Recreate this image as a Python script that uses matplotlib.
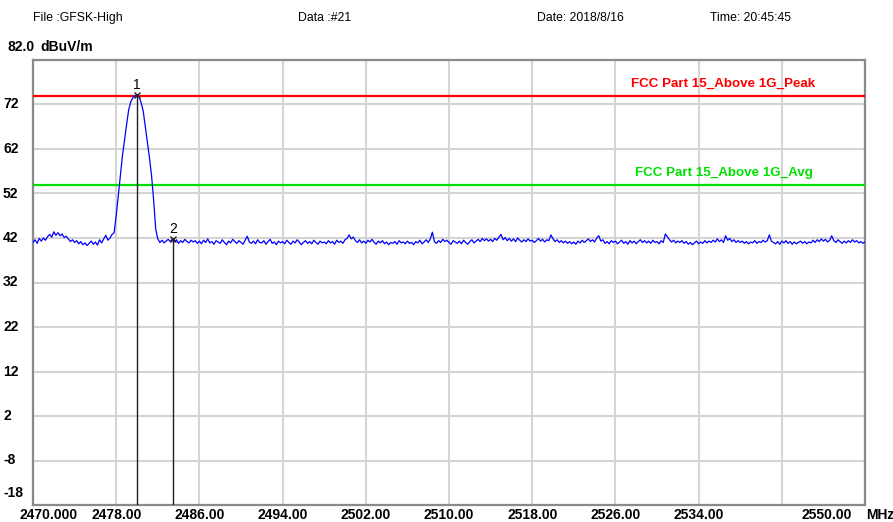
import numpy as np
import matplotlib
matplotlib.use("Agg")
import matplotlib.pyplot as plt
from matplotlib.transforms import blended_transform_factory, offset_copy

# ---------------- data ----------------
freq_start, freq_stop = 2470.0, 2550.0
level_min, level_max = -18.0, 82.0

trace_dbuv = [
    41.0, 41.6, 40.8, 41.9, 41.3, 42.0, 41.5, 42.3, 42.8, 42.2, 43.4, 42.6, 43.2, 42.5, 42.9, 42.1, 42.4, 41.8, 41.2, 41.6,
    41.0, 41.4, 40.7, 41.2, 40.5, 40.9, 40.3, 40.8, 41.3, 40.6, 41.1, 40.4, 41.6, 40.9, 41.8, 42.6, 41.5, 42.0, 42.8, 43.2,
    47.0, 51.5, 56.0, 60.5, 64.0, 67.5, 70.8, 72.6, 73.5, 74.0, 74.2, 73.7, 72.4, 70.5, 67.0, 63.5, 60.0, 56.0, 50.5, 44.0,
    41.8, 41.0, 41.5, 40.9, 41.3, 41.7, 41.2, 41.8, 41.1, 41.6, 40.8, 41.4, 41.0, 41.7, 41.2, 40.9, 41.5, 41.1, 41.4, 40.8,
    41.3, 40.7, 41.5, 41.0, 41.8, 40.9, 41.2, 40.6, 41.4, 41.1, 40.8, 41.6, 41.0, 40.5, 41.3, 40.9, 41.7, 41.2, 40.8, 41.4,
    41.0, 40.6, 41.5, 42.4, 41.1, 40.8, 41.3, 40.7, 41.6, 41.0, 40.9, 41.4, 40.6, 41.2, 41.7, 40.8, 41.1, 40.5, 41.3, 40.9,
    41.2, 40.7, 41.5, 41.0, 40.6, 41.3, 40.9, 41.6, 41.1, 40.5, 41.0, 41.4, 40.8, 41.2, 40.7, 41.5, 41.0, 40.6, 41.3, 40.9,
    41.1, 40.7, 41.4, 40.9, 41.2, 40.6, 41.5, 41.0, 41.3, 40.8, 41.6, 41.9, 42.7, 41.8, 42.2, 41.4, 41.0, 41.6, 40.9, 41.3,
    40.8, 41.5, 41.1, 41.7, 41.0, 40.6, 41.3, 40.9, 41.4, 40.7, 41.1, 40.5, 41.0, 40.8, 41.2, 40.6, 41.4, 40.9, 41.1, 40.7,
    41.3, 40.8, 41.0, 40.5, 41.2, 40.9, 41.5, 40.7, 41.1, 41.6, 41.0, 41.8, 43.3, 41.2, 40.8, 41.4, 41.0, 41.7, 41.2, 41.5,
    41.0, 40.6, 41.4, 41.1, 40.8, 41.3, 40.7, 41.5, 41.0, 40.6, 41.2, 41.6, 40.9, 41.3, 41.7, 41.2, 41.9, 41.4, 41.8, 41.3,
    41.7, 41.2, 41.9, 41.5, 42.2, 42.8, 41.6, 42.1, 41.4, 41.9, 41.3, 41.8, 41.2, 42.0, 41.5, 41.1, 41.6, 41.2, 41.8, 41.3,
    41.5, 41.0, 41.4, 41.9, 41.3, 41.7, 41.1, 41.6, 41.4, 42.7, 41.8, 41.2, 41.6, 41.0, 41.4, 40.9, 41.3, 40.8, 41.2, 40.7,
    41.1, 40.6, 41.3, 40.9, 41.5, 41.0, 41.4, 41.8, 41.2, 41.6, 41.1, 42.0, 42.5, 41.3, 41.6, 40.8, 41.2, 40.7, 41.4, 41.0,
    41.3, 40.7, 41.1, 41.5, 40.8, 41.2, 40.6, 41.4, 40.9, 41.3, 40.7, 41.2, 41.6, 41.0, 41.4, 40.9, 41.3, 40.8, 41.5, 41.0,
    41.2, 40.7, 41.4, 41.0, 42.9, 42.3, 41.6, 41.1, 41.5, 40.9, 41.3, 41.0, 41.4, 40.8, 41.2, 40.6, 41.0, 40.5, 40.9, 41.3,
    40.7, 41.1, 40.8, 41.4, 40.9, 41.3, 41.0, 41.5, 41.1, 41.8, 41.2, 41.6, 41.0, 42.5, 41.5, 41.9, 41.2, 41.6, 41.0, 41.4,
    41.0, 41.3, 40.8, 41.2, 40.7, 41.1, 40.9, 41.4, 40.8, 41.2, 41.0, 41.5, 41.1, 41.4, 42.7, 41.3, 41.0, 40.7, 41.2, 40.6,
    41.3, 40.9, 41.4, 40.8, 41.2, 40.6, 41.1, 40.7, 41.0, 41.3, 40.8, 41.2, 40.7, 41.1, 40.9, 41.5, 41.0, 41.6, 41.2, 41.8,
    41.3, 41.7, 41.1, 41.5, 42.5, 41.4, 41.0, 41.6, 41.2, 40.8, 41.3, 40.9, 41.4, 41.0, 41.6, 41.1, 41.4, 40.9, 41.2, 40.8,
    41.1,
]
trace_freq = np.linspace(freq_start, freq_stop, len(trace_dbuv))

limit_names = ["FCC Part 15_Above 1G_Peak", "FCC Part 15_Above 1G_Avg"]
limit_levels = [74.0, 54.0]
limit_colors = ["#ff0000", "#00e000"]

marker_ids = ["1", "2"]
marker_freqs = [2480.0, 2483.5]
marker_levels = [74.2, 41.8]

x_ticks = [2470, 2478, 2486, 2494, 2502, 2510, 2518, 2526, 2534, 2542, 2550]
x_labels = ["2470.000", "2478.00", "2486.00", "2494.00", "2502.00", "2510.00",
            "2518.00", "2526.00", "2534.00", "", "2550.00"]
y_ticks = [82, 72, 62, 52, 42, 32, 22, 12, 2, -8, -18]
y_labels = ["82.0", "72", "62", "52", "42", "32", "22", "12", "2", "-8", "-18"]

header_texts = ["File :GFSK-High", "Data :#21", "Date: 2018/8/16", "Time: 20:45:45"]
header_x_px = [33, 298, 537, 710]

# ---------------- figure ----------------
W, H = 893, 522
fig = plt.figure(figsize=(W / 100, H / 100), dpi=100)
ax_left, ax_right, ax_top, ax_bottom = 33, 865, 60, 505
ax = fig.add_axes([ax_left / W, 1 - ax_bottom / H, (ax_right - ax_left) / W, (ax_bottom - ax_top) / H])
ax.set_xlim(freq_start, freq_stop)
ax.set_ylim(level_min, level_max)

ax.set_xticks(x_ticks)
ax.set_yticks(y_ticks)
ax.set_xticklabels([])
ax.set_yticklabels([])
ax.tick_params(length=0)
ax.grid(True, color="#d4d4d4", linewidth=1.5)
ax.set_axisbelow(True)
for s in ax.spines.values():
    s.set_color("#8a8a8a")
    s.set_linewidth(1.6)

bold = dict(family="Liberation Sans", fontweight="bold", fontsize=10)

# limit lines
for name, lvl, col in zip(limit_names, limit_levels, limit_colors):
    ax.axhline(lvl, color=col, linewidth=1.6, zorder=3)
    ax.text(2536.4, lvl, name, color=col, ha="center", va="bottom",
            transform=offset_copy(ax.transData, fig=fig, x=0, y=6, units="dots"),
            family="Liberation Sans", fontweight="bold", fontsize=9.6)

# trace
ax.plot(trace_freq, trace_dbuv, color="#0000ff", linewidth=0.9, zorder=4)

# markers
for mid, mf, ml in zip(marker_ids, marker_freqs, marker_levels):
    ax.plot([mf, mf], [level_min, ml], color="#202020", linewidth=1.0, zorder=5)
    ax.plot([mf], [ml], marker="x", markersize=5, color="#202020", markeredgewidth=1.0, zorder=6)
    ax.text(mf, ml, mid, ha="center", va="bottom", color="black",
            transform=offset_copy(ax.transData, fig=fig, x=0, y=3, units="dots"),
            family="Liberation Sans", fontsize=10)

# y labels
ty = blended_transform_factory(fig.transFigure, ax.transData)
for v, lab in zip(y_ticks, y_labels):
    dy = 0
    if v == level_max:
        dy = 13
    elif v == level_min:
        dy = 12
    ax.text(3 / W if v != level_max else 7 / W, v, lab, ha="left", va="center",
            transform=offset_copy(ty, fig=fig, x=0, y=dy, units="dots"), **bold)
fig.text(40 / W, 1 - 47 / H, "dBuV/m", ha="left", va="center", **bold)

# x labels
tx = blended_transform_factory(ax.transData, fig.transFigure)
for v, lab in zip(x_ticks, x_labels):
    if not lab:
        continue
    dx = 0
    if v == freq_start:
        dx = 16
    elif v == freq_stop:
        dx = -38
    ax.text(v, 1 - 515 / H, lab, ha="center", va="center",
            transform=offset_copy(tx, fig=fig, x=dx, y=0, units="dots"), **bold)
fig.text(866 / W, 1 - 515 / H, "MHz", ha="left", va="center", **bold)

# header
for t, xp in zip(header_texts, header_x_px):
    fig.text(xp / W, 1 - 18 / H, t, ha="left", va="center",
             family="Liberation Sans", fontsize=8.8)

fig.savefig("out.png", dpi=100, facecolor="white")
